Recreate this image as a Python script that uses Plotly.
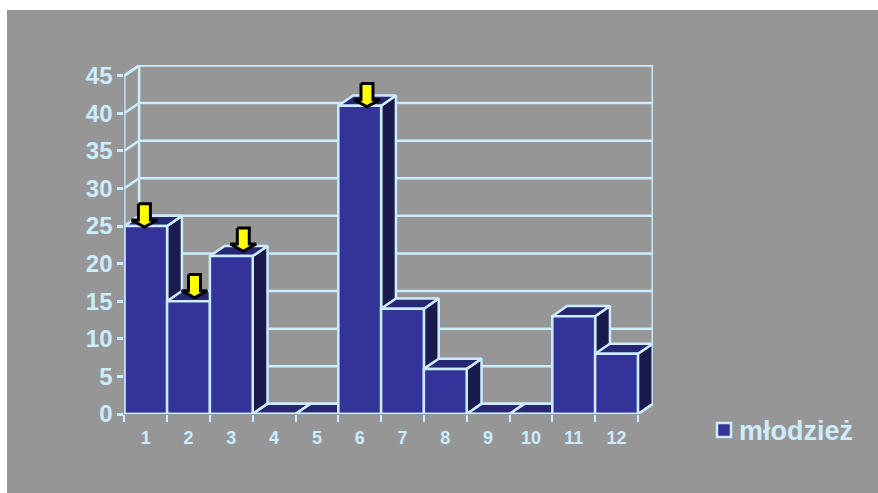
import plotly.graph_objects as go

# Survey counts per question
categories = ["1", "2", "3", "4", "5", "6", "7", "8", "9", "10", "11", "12"]
counts = [25, 15, 21, 0, 0, 41, 14, 6, 0, 0, 13, 8]
flagged = ["1", "2", "3", "6"]
flag_shift_x = [-0.03, 0.14, 0.28, 0.17]
flag_shift_y = [-0.15, 0.45, 0.65, -0.15]
series_name = "młodzież"
y_ticks = [0, 5, 10, 15, 20, 25, 30, 35, 40, 45]

WIDTH, HEIGHT = 878, 493
LEFT, RIGHT, TOP, BOTTOM = 124.3, 652.9, 65.0, 414.0
DEPTH_X, DEPTH_Y = 0.346, 1.35
BAR_HALF = 0.5
X0, X1 = 0.5, 12.5
STROKE = 2.5

PANEL = "#969696"
LINE = "#CCECFF"
FRONT = "#333399"
TOPFACE = "#262673"
SIDE = "#1A1A4D"
FONT = "Liberation Sans"

xs = [int(c) for c in categories]
fig = go.Figure()


def line(px, py, axes="", width=STROKE, color=LINE):
    fig.add_trace(go.Scatter(
        x=px, y=py, mode="lines", line=dict(color=color, width=width),
        hoverinfo="skip", showlegend=False, cliponaxis=False,
        xaxis="x" + axes, yaxis="y" + axes,
    ))


def polygon(px, py, fill, axes="", stroke=LINE, width=STROKE):
    fig.add_trace(go.Scatter(
        x=px + px[:1], y=py + py[:1], mode="lines", fill="toself", fillcolor=fill,
        line=dict(color=stroke, width=width), hoverinfo="skip", showlegend=False,
        cliponaxis=False, xaxis="x" + axes, yaxis="y" + axes,
    ))


# Back wall and left wall rulings
for t in y_ticks:
    line([X0, X0 + DEPTH_X, X1 + DEPTH_X], [t, t + DEPTH_Y, t + DEPTH_Y])
top_back = y_ticks[-1] + DEPTH_Y
line([X0 + DEPTH_X, X0 + DEPTH_X], [DEPTH_Y, top_back])
line([X1 + DEPTH_X, X1 + DEPTH_X], [top_back, DEPTH_Y])
line([X1, X1 + DEPTH_X], [0, DEPTH_Y])

# Extruded side and top faces, left to right so later bars overlap earlier ones
for x, v in zip(xs, counts):
    r = x + BAR_HALF
    l = x - BAR_HALF
    if v > 0:
        polygon([r, r + DEPTH_X, r + DEPTH_X, r], [0, DEPTH_Y, v + DEPTH_Y, v], SIDE)
    polygon([l, r, r + DEPTH_X, l + DEPTH_X], [v, v, v + DEPTH_Y, v + DEPTH_Y], TOPFACE)

# Front faces sit on an overlaid axis pair so they cover the extrusions
fig.add_trace(go.Bar(
    x=xs, y=counts, width=1, name=series_name,
    marker=dict(color=FRONT, line=dict(color=LINE, width=STROKE)),
    xaxis="x2", yaxis="y2", showlegend=False, cliponaxis=False,
))

# Axis lines in front of the bars
line([X0, X1], [0, 0], "2")
line([X0, X0], [0, y_ticks[-1]], "2")
line([X0, X0 + DEPTH_X], [y_ticks[-1], top_back], "2")

# Down arrows above the flagged bars
SHAFT, HEAD = 0.14, 0.3
for c, sx, sy in zip(flagged, flag_shift_x, flag_shift_y):
    i = categories.index(c)
    x, tip = xs[i] + sx, counts[i] + sy
    neck = tip + 0.95
    tail = tip + 3.1
    polygon(
        [x - SHAFT, x + SHAFT, x + SHAFT, x + HEAD, x, x - HEAD, x - SHAFT],
        [tail, tail, neck, neck, tip, neck, neck],
        "#FFFF00", "2", stroke="#000000", width=3,
    )

fig.update_layout(
    template="none",
    width=WIDTH, height=HEIGHT,
    margin=dict(l=0, r=0, t=0, b=0, autoexpand=False),
    paper_bgcolor="#FFFFFF", plot_bgcolor="rgba(0,0,0,0)",
    showlegend=False,
    font=dict(family=FONT, color=LINE),
    xaxis=dict(
        automargin=False,
        domain=[LEFT / WIDTH, RIGHT / WIDTH],
        range=[X0, X1 + DEPTH_X + 0.004],
        tickmode="array", tickvals=xs, ticktext=categories,
        ticks="outside", ticklen=7, tickcolor="rgba(0,0,0,0)", tickwidth=1,
        tickfont=dict(family=FONT, size=18, color=LINE, weight="bold"),
        minor=dict(tickmode="array", tickvals=[x - 0.5 for x in xs] + [12.5],
                   ticks="outside", ticklen=7, tickwidth=2, tickcolor=LINE, showgrid=False),
        showgrid=False, zeroline=False, showline=False,
    ),
    yaxis=dict(
        automargin=False,
        domain=[1 - BOTTOM / HEIGHT, 1 - TOP / HEIGHT],
        range=[0, (BOTTOM - TOP) / 7.52],
        tickmode="array", tickvals=y_ticks,
        ticks="outside", ticklen=6, tickwidth=2.5, tickcolor=LINE,
        tickfont=dict(family=FONT, size=24, color=LINE, weight="bold"),
        showgrid=False, zeroline=False, showline=False,
    ),
    xaxis2=dict(overlaying="x", matches="x", visible=False),
    yaxis2=dict(overlaying="y", matches="y", visible=False),
    shapes=[
        # Grey panel behind the whole chart
        dict(type="rect", xref="paper", yref="paper", layer="below",
             x0=7 / WIDTH, x1=1, y0=0, y1=1 - 10 / HEIGHT,
             fillcolor=PANEL, line=dict(width=0)),
        # Key swatch
        dict(type="rect", xref="paper", yref="paper", layer="above",
             x0=717 / WIDTH, x1=731 / WIDTH,
             y0=1 - 437 / HEIGHT, y1=1 - 423 / HEIGHT,
             fillcolor=FRONT, line=dict(color=LINE, width=2.5)),
    ],
    annotations=[dict(
        text=series_name, xref="paper", yref="paper", showarrow=False,
        x=737 / WIDTH, y=1 - 431 / HEIGHT, xanchor="left", yanchor="middle",
        font=dict(family=FONT, size=27, color=LINE, weight="bold"),
    )],
)

fig.write_html("out.html")
